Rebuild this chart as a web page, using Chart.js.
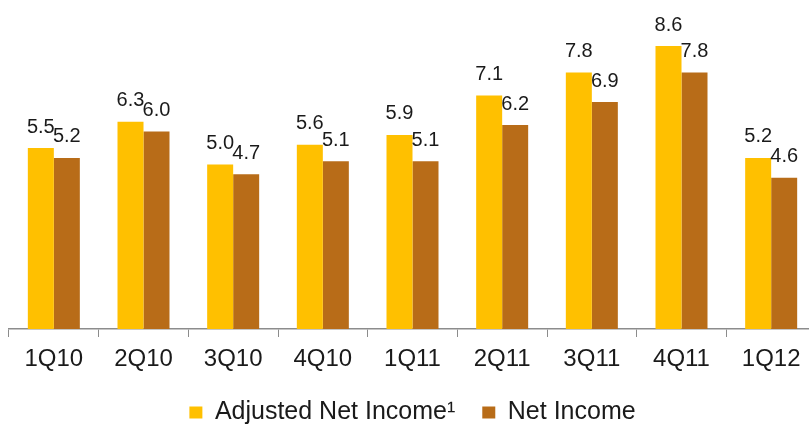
<!DOCTYPE html>
<html>
<head>
<meta charset="utf-8">
<script src="https://cdn.jsdelivr.net/npm/chart.js@4"></script>
<style>
  html, body { margin: 0; padding: 0; background: #fff; overflow: hidden; }
  #wrap { position: absolute; left: 0; top: 0; width: 820px; height: 424px; }
</style>
</head>
<body>
<div id="wrap"><canvas id="myChart" width="820" height="424"></canvas></div>
<script>
const quarters = ['1Q10', '2Q10', '3Q10', '4Q10', '1Q11', '2Q11', '3Q11', '4Q11', '1Q12']
const adjustedNetIncome = [5.5, 6.3, 5.0, 5.6, 5.9, 7.1, 7.8, 8.6, 5.2]
const netIncome = [5.2, 6.0, 4.7, 5.1, 5.1, 6.2, 6.9, 7.8, 4.6]

// labels over each bar
const valueLabels = {
    id: 'valueLabels',
    afterDatasetsDraw(chart) {
        const c = chart.ctx
        c.save()
        c.font = '20px "Liberation Sans", Arial, sans-serif'
        c.fillStyle = '#1a1a1a'
        c.textAlign = 'center'
        c.textBaseline = 'middle'
        chart.data.datasets.forEach((ds, i) => {
            chart.getDatasetMeta(i).data.forEach((bar, j) => {
                c.fillText(ds.data[j].toFixed(1), bar.x, bar.y - 21)
            })
        })
        c.restore()
    }
}

const ctx = document.getElementById('myChart')
const myChart = new Chart(ctx, {
    type: 'bar',
    data: {
        labels: quarters,
        datasets: [{
            label: 'Adjusted Net Income¹',
            data: adjustedNetIncome,
            backgroundColor: '#FFC000',
            borderWidth: 0
        }, {
            label: 'Net Income',
            data: netIncome,
            backgroundColor: '#B86C18',
            borderWidth: 0
        }]
    },
    options: {
        responsive: false,
        animation: false,
        layout: { padding: { left: 9, right: 4, top: 0, bottom: -11 } },
        datasets: {
            bar: { categoryPercentage: 0.58, barPercentage: 1 }
        },
        scales: {
            x: {
                afterFit(scale) { scale.height = 44 },
                grid: {
                    offset: true,
                    drawOnChartArea: false,
                    tickLength: 8,
                    color: '#8c8c8c'
                },
                border: { color: '#8c8c8c', width: 1.5 },
                ticks: {
                    color: '#1a1a1a',
                    padding: 8,
                    font: { family: '"Liberation Sans", Arial, sans-serif', size: 24 }
                }
            },
            y: {
                display: false,
                min: 0,
                max: 10
            }
        },
        plugins: {
            tooltip: { enabled: false },
            legend: {
                position: 'bottom',
                labels: {
                    boxWidth: 13,
                    boxHeight: 12,
                    padding: 27,
                    color: '#1a1a1a',
                    font: { family: '"Liberation Sans", Arial, sans-serif', size: 25 }
                }
            }
        }
    },
    plugins: [valueLabels]
})
</script>
</body>
</html>
